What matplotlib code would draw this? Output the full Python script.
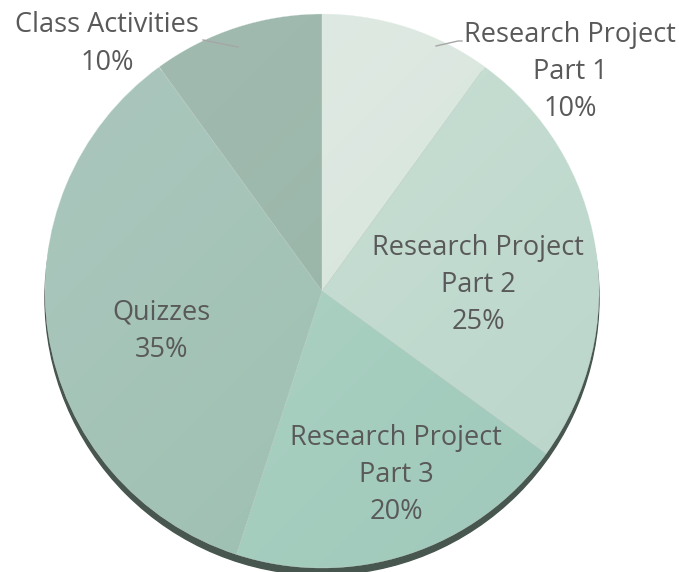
import matplotlib
matplotlib.use('Agg')
import matplotlib.pyplot as plt
import numpy as np

labels = ['Research Project\nPart 1', 'Research Project\nPart 2', 'Research Project\nPart 3',
          'Quizzes', 'Class Activities']
values = [10, 25, 20, 35, 10]
colors = ['#e0e9e5', '#c9ddd6', '#acd0c5', '#a6c3ba', '#9db6ad']

# label positions in pixels (x, y from top)
label_pos = [(570, 72), (478, 285), (396, 475), (162, 331), (107, 44)]

W, H = 679, 572
fig = plt.figure(figsize=(W / 100, H / 100), dpi=100)
ax = fig.add_axes([0, 0, 1, 1])

cx, cy, r = 322, H - 291, 277

# shadow under the pie
shadow = plt.Circle((cx, cy - 7), r, color='#47574f', zorder=1)
ax.add_patch(shadow)

wedges, _ = ax.pie(values, colors=colors, startangle=90, counterclock=False,
                   center=(cx, cy), radius=r, frame=True,
                   wedgeprops=dict(edgecolor='#e8efec', linewidth=0.2, zorder=2))
ax.set_xlim(0, W)
ax.set_ylim(0, H)
ax.set_aspect('equal')
ax.axis('off')

# soft light-to-dark shading across the pie
grad = np.linspace(0, 1, 256)
gx, gy = np.meshgrid(grad, grad)
shade = (gx + gy) / 2
img = ax.imshow(shade, extent=(cx - r, cx + r, cy - r, cy + r), cmap='Greens',
                alpha=0.06, vmin=0, vmax=1, zorder=3, origin='upper')
img.set_clip_path(plt.Circle((cx, cy), r, transform=ax.transData))

for lab, v, (x, y) in zip(labels, values, label_pos):
    ax.text(x, H - y, f'{lab}\n{v}%', ha='center', va='center', fontsize=19.5,
            color='#595959', family='Open Sans', linespacing=1.43, zorder=5)

# leader lines
ax.plot([203, 238], [H - 40, H - 47], color='#a6a6a6', lw=1, zorder=4)
ax.plot([436, 458, 462], [H - 46, H - 41, H - 41], color='#a6a6a6', lw=1, zorder=4)

fig.savefig('out.png', dpi=100)
